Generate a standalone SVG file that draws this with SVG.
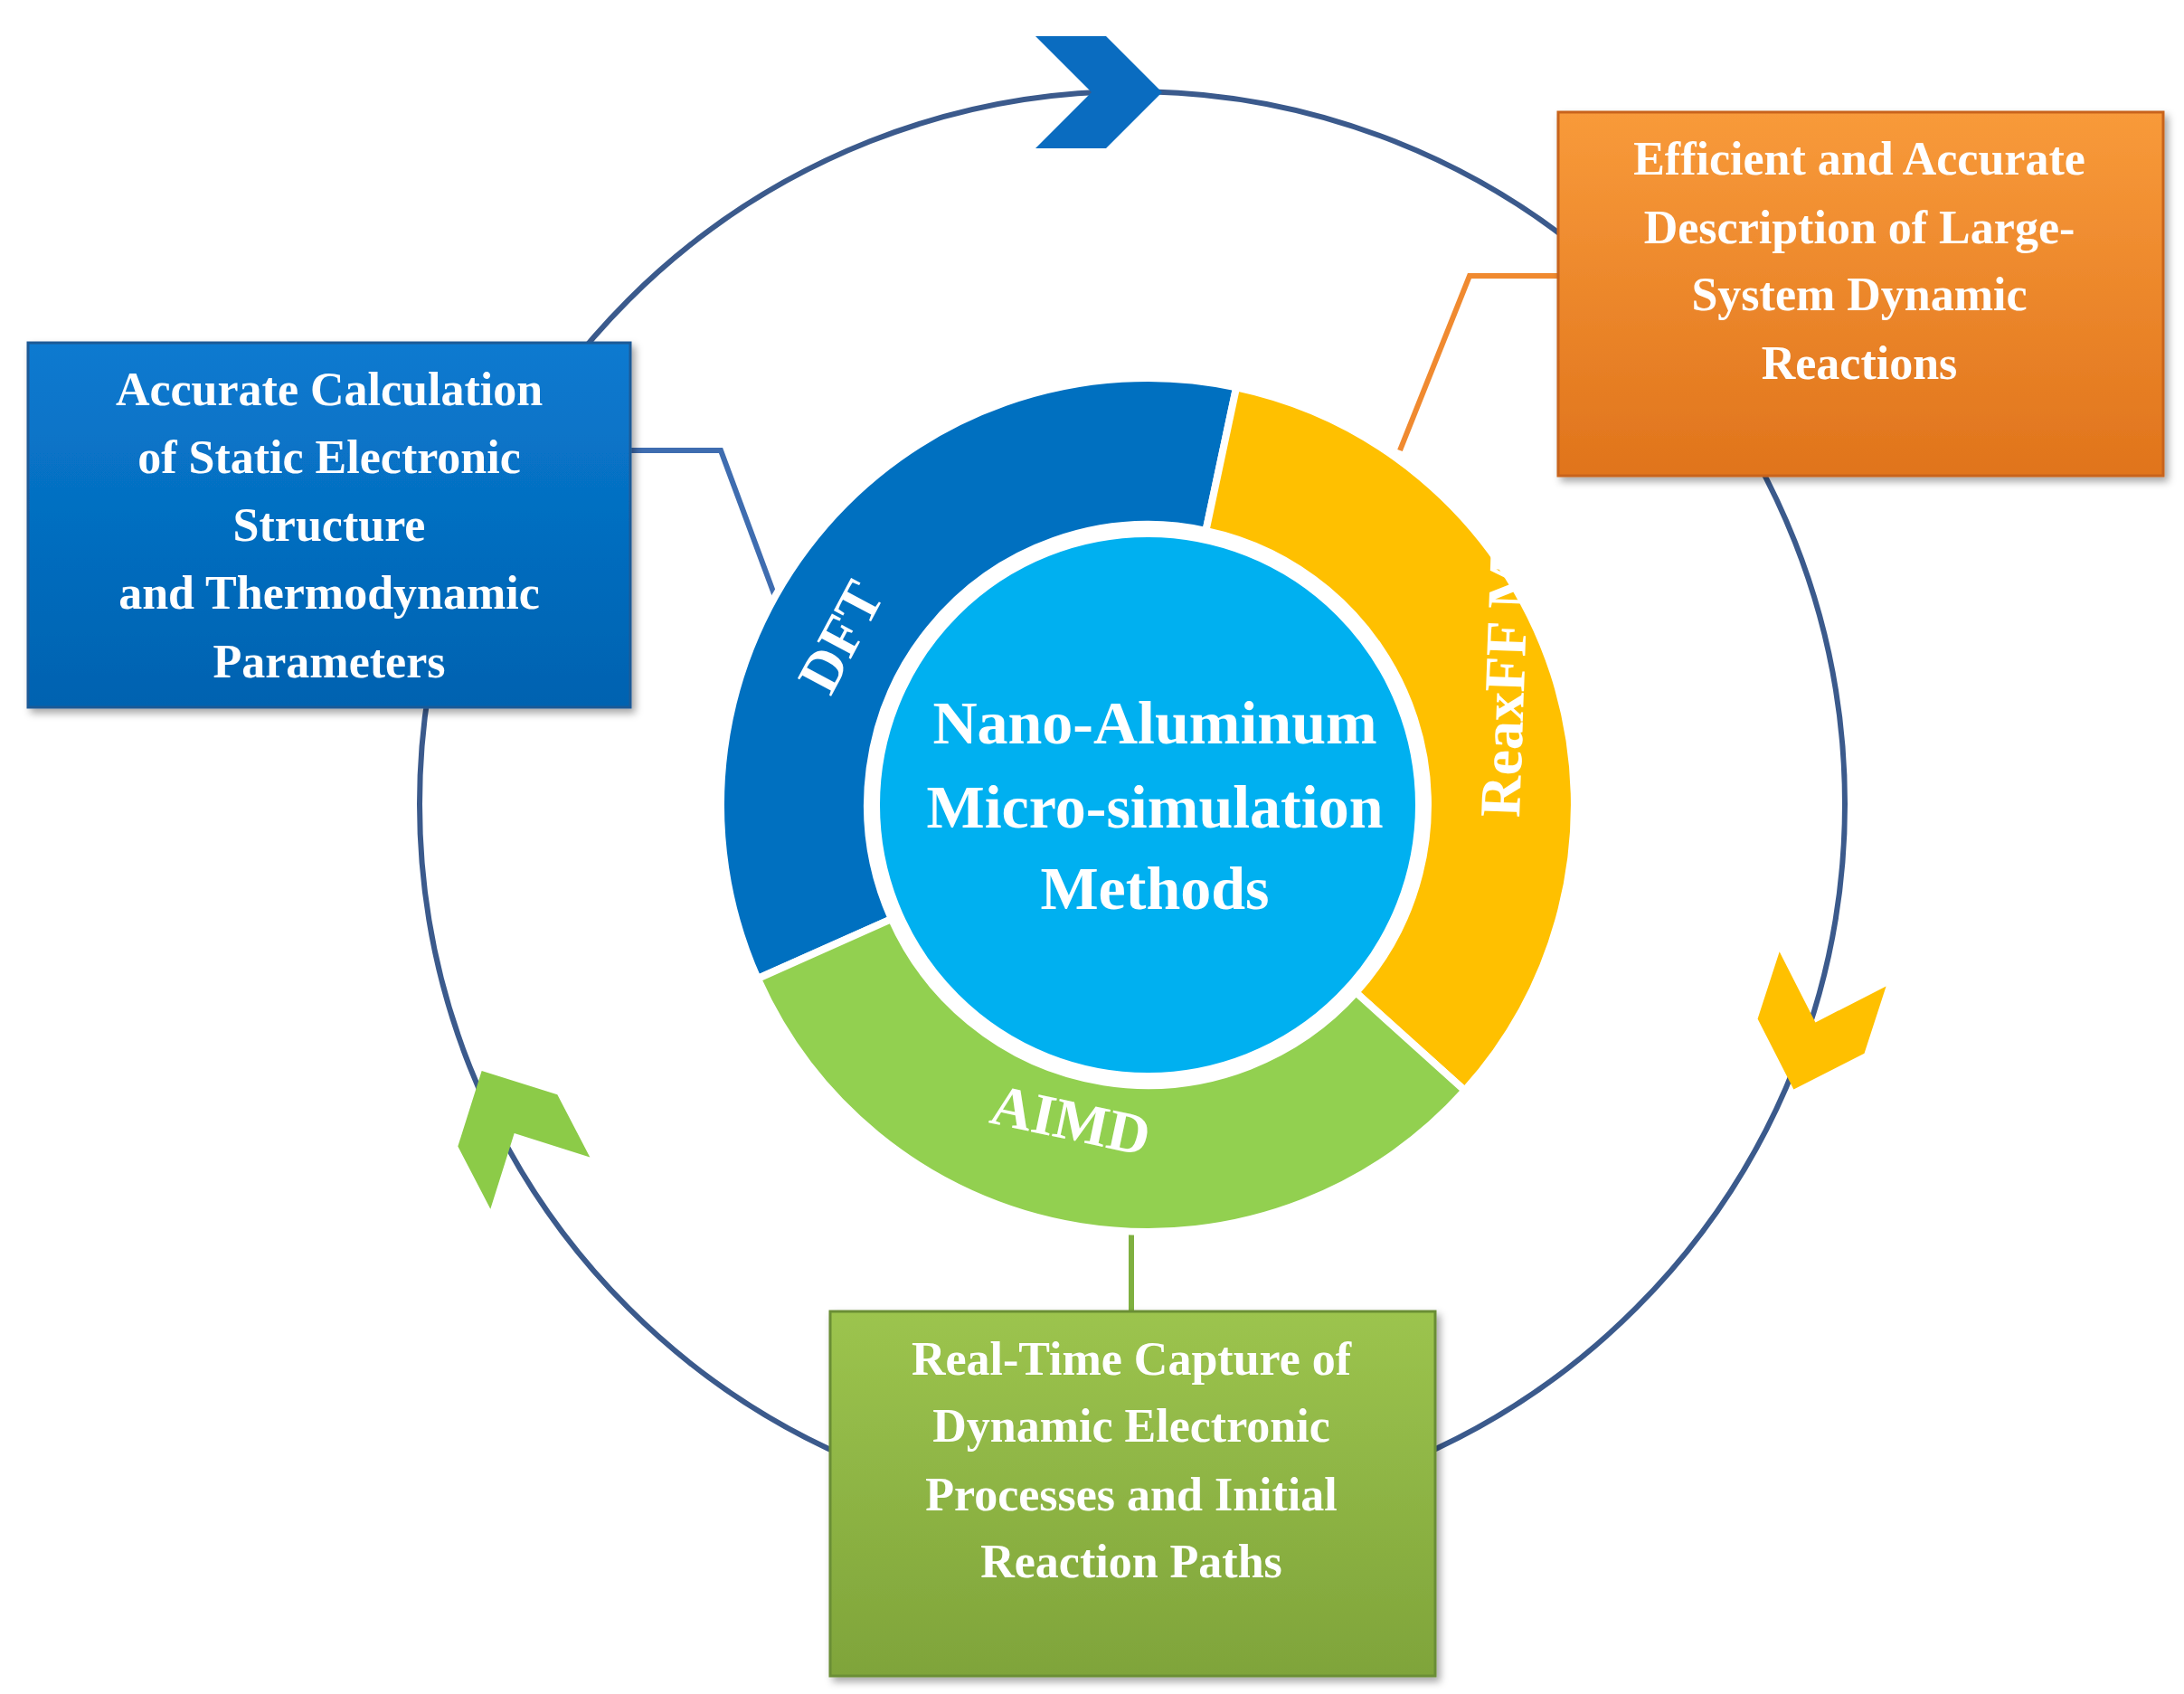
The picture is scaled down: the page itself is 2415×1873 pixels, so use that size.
<svg xmlns="http://www.w3.org/2000/svg" width="2415" height="1873" viewBox="0 0 2415 1873">
<defs>
<linearGradient id="gb" x1="0" y1="0" x2="0" y2="1"><stop offset="0" stop-color="#0A7AD0"/><stop offset="1" stop-color="#0062B0"/></linearGradient>
<linearGradient id="go" x1="0" y1="0" x2="0" y2="1"><stop offset="0" stop-color="#F89A3A"/><stop offset="1" stop-color="#E0741C"/></linearGradient>
<linearGradient id="gg" x1="0" y1="0" x2="0" y2="1"><stop offset="0" stop-color="#9CC44E"/><stop offset="1" stop-color="#7FA43A"/></linearGradient>
<filter id="sh" x="-5%" y="-5%" width="115%" height="115%"><feDropShadow dx="4" dy="5" stdDeviation="4" flood-opacity="0.35"/></filter>
</defs>
<style>
text{font-family:"Liberation Serif","Times New Roman",serif;font-weight:bold;fill:#fff;text-anchor:middle}
.bt{font-size:52px}
.ct{font-size:68px}
.st{font-size:64px}
.con{fill:none;stroke-width:6}
</style>
<rect width="2415" height="1873" fill="#fff"/>
<circle cx="1252" cy="889" r="788" fill="none" stroke="#3B5A8C" stroke-width="6"/>
<g id="connectors">
<polyline class="con" stroke="#3F6DB0" points="697,498 797,498 859,665"/>
<polyline class="con" stroke="#F08A30" points="1723,305 1625,305 1548,498"/>
<polyline class="con" stroke="#7FB040" points="1251,1362 1251,1450"/>
</g>
<g id="arrows">
<polygon fill="#0A6CC0" transform="translate(1215,102)" points="-70,-62 8,-62 70,0 8,62 -70,62 -8,0"/>
<polygon fill="#FFC000" transform="translate(2005,1138) rotate(108)" points="-70,-62 8,-62 70,0 8,62 -70,62 -8,0"/>
<polygon fill="#8CCB48" transform="translate(565,1246) rotate(242.5)" points="-70,-62 8,-62 70,0 8,62 -70,62 -8,0"/>
</g>
<g id="dft">
<path d="M 837.8 1082 A 472 472 0 0 1 1367.1 428.3 L 1333.4 586.8 A 310 310 0 0 0 985.8 1016.1 Z" fill="#0070C0" stroke="#fff" stroke-width="8"/>
<text class="st" transform="translate(929,704) rotate(-62)" dy="22">DFT</text>
</g>
<g id="reaxff">
<path d="M 1367.1 428.3 A 472 472 0 0 1 1619.7 1205.8 L 1499.4 1097.4 A 310 310 0 0 0 1333.4 586.8 Z" fill="#FFC000" stroke="#fff" stroke-width="8"/>
<text class="st" transform="translate(1664,735) rotate(-88)" dy="22">ReaxFF MD</text>
</g>
<g id="aimd">
<path d="M 1619.7 1205.8 A 472 472 0 0 1 837.8 1082 L 985.8 1016.1 A 310 310 0 0 0 1499.4 1097.4 Z" fill="#92D050" stroke="#fff" stroke-width="8"/>
<text class="st" transform="translate(1184,1238) rotate(12)" dy="22">AIMD</text>
</g>
<g id="center">
<circle cx="1269" cy="890" r="300" fill="#00B0F0" stroke="#fff" stroke-width="8"/>
<text class="ct" x="1277" y="822">Nano-Aluminum</text>
<text class="ct" x="1277" y="915">Micro-simulation</text>
<text class="ct" x="1277" y="1005">Methods</text>
</g>
<g id="box-blue">
<rect x="31" y="379" width="666" height="403" fill="url(#gb)" stroke="#1F5A96" stroke-width="3" filter="url(#sh)"/>
<text class="bt" x="364" y="448">Accurate Calculation</text>
<text class="bt" x="364" y="523">of Static Electronic</text>
<text class="bt" x="364" y="598">Structure</text>
<text class="bt" x="364" y="673">and Thermodynamic</text>
<text class="bt" x="364" y="749">Parameters</text>
</g>
<g id="box-orange">
<rect x="1723" y="124" width="669" height="402" fill="url(#go)" stroke="#C8641A" stroke-width="3" filter="url(#sh)"/>
<text class="bt" x="2056" y="193">Efficient and Accurate</text>
<text class="bt" x="2056" y="269">Description of Large-</text>
<text class="bt" x="2056" y="343">System Dynamic</text>
<text class="bt" x="2056" y="419">Reactions</text>
</g>
<g id="box-green">
<rect x="918" y="1450" width="669" height="403" fill="url(#gg)" stroke="#6A8E34" stroke-width="3" filter="url(#sh)"/>
<text class="bt" x="1251" y="1520">Real-Time Capture of</text>
<text class="bt" x="1251" y="1594">Dynamic Electronic</text>
<text class="bt" x="1251" y="1670">Processes and Initial</text>
<text class="bt" x="1251" y="1744">Reaction Paths</text>
</g>
</svg>
